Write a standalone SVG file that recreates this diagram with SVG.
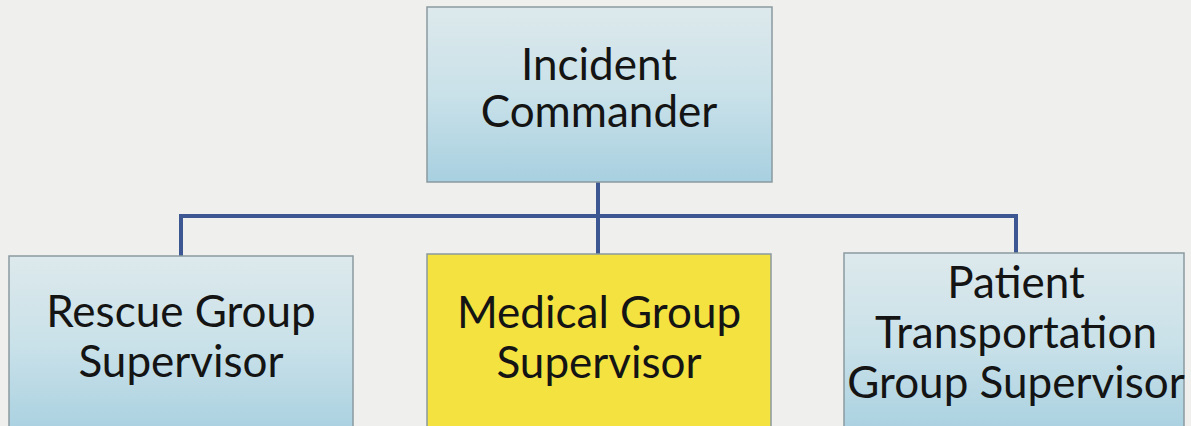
<svg xmlns="http://www.w3.org/2000/svg" width="1191" height="426" viewBox="0 0 1191 426">
<defs>
<linearGradient id="blue" x1="0" y1="0" x2="0" y2="1">
<stop offset="0" stop-color="#dde9ec"/>
<stop offset="0.5" stop-color="#c9e1e9"/>
<stop offset="1" stop-color="#a8d0e0"/>
</linearGradient>
<style>
.box{stroke:#8a9aa0;stroke-width:1.5}
.blue{fill:url(#blue)}
.yellow{fill:#f3e23f}
.t{font-family:Lato,"Open Sans",sans-serif;font-size:44px;fill:#141414;text-anchor:middle}
.c{stroke:#3d5793;stroke-width:4;fill:none}
</style>
</defs>
<rect width="1191" height="426" fill="#efefee"/>
<g id="connectors">
<path class="c" d="M598 182 V254"/>
<path class="c" d="M181 216 H1016"/>
<path class="c" d="M181 214 V256"/>
<path class="c" d="M1016 214 V253"/>
</g>
<g id="incident-commander">
<rect class="box blue" x="427" y="7" width="345" height="175"/>
<text class="t" x="599" y="80">Incident</text>
<text class="t" x="599" y="127">Commander</text>
</g>
<g id="rescue-group-supervisor">
<rect class="box blue" x="9" y="256" width="344" height="180"/>
<text class="t" x="181" y="327">Rescue Group</text>
<text class="t" x="181" y="377">Supervisor</text>
</g>
<g id="medical-group-supervisor">
<rect class="box yellow" x="427" y="254" width="344" height="182"/>
<text class="t" x="599" y="328">Medical Group</text>
<text class="t" x="599" y="378">Supervisor</text>
</g>
<g id="patient-transportation-group-supervisor">
<rect class="box blue" x="844" y="253" width="340" height="183"/>
<text class="t" x="1016" y="298">Patient</text>
<text class="t" x="1016" y="348">Transportation</text>
<text class="t" x="1016" y="398">Group Supervisor</text>
</g>
</svg>
